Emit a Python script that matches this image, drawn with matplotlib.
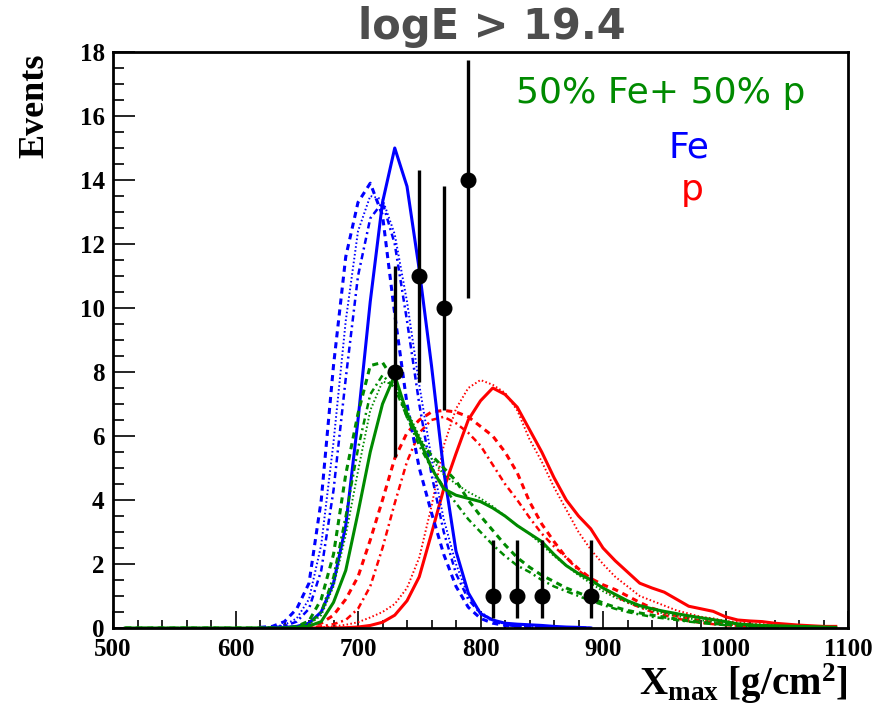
import numpy as np
import matplotlib
matplotlib.use('Agg')
import matplotlib.pyplot as plt
from matplotlib.ticker import MultipleLocator

plt.rcParams['font.family'] = ['Liberation Serif', 'DejaVu Serif']
plt.rcParams['font.weight'] = 'bold'
plt.rcParams['mathtext.fontset'] = 'custom'
plt.rcParams['mathtext.rm'] = 'Liberation Serif:bold'
plt.rcParams['mathtext.it'] = 'Liberation Serif:bold'
plt.rcParams['mathtext.bf'] = 'Liberation Serif:bold'

# Xmax grids (g/cm^2)
x_fe = np.arange(620, 900, 10)
x_p = np.arange(640, 1100, 10)
x_mix = np.arange(510, 1100, 10)

# Fe simulations (4 models)
fe_solid = [0, 0, 0.02, 0.05, 0.15, 0.5, 1.4, 3.2, 6.5, 10.2, 13.3, 15.0, 13.8, 11.2,
            8.2, 4.9, 2.4, 1.1, 0.45, 0.25, 0.15, 0.12, 0.1, 0.08, 0.05, 0.03, 0.02, 0]
fe_dashed = [0.02, 0.05, 0.2, 0.6, 1.4, 4.0, 8.2, 11.6, 13.3, 13.9, 12.9, 9.8, 7.0, 5.0,
             3.6, 2.3, 1.3, 0.65, 0.3, 0.15, 0.08, 0.05, 0.03, 0.02, 0.01, 0, 0, 0]
fe_dotted = [0.01, 0.03, 0.1, 0.3, 0.9, 2.6, 5.8, 9.6, 12.4, 13.5, 13.4, 12.3, 10.2, 7.6,
             5.3, 3.4, 2.0, 1.0, 0.5, 0.25, 0.12, 0.06, 0.03, 0.02, 0.01, 0, 0, 0]
fe_dashdot = [0, 0.02, 0.06, 0.2, 0.6, 1.8, 4.3, 7.8, 11.0, 12.8, 13.3, 12.0, 9.6, 7.0,
              4.8, 3.0, 1.7, 0.9, 0.45, 0.22, 0.1, 0.05, 0.03, 0.02, 0.01, 0, 0, 0]

# proton simulations
p_solid = [0, 0, 0, 0, 0, 0.01, 0.03, 0.08, 0.18, 0.4, 0.85, 1.6, 2.95, 4.35, 5.45, 6.5,
           7.1, 7.5, 7.3, 6.9, 6.2, 5.5, 4.7, 4.0, 3.5, 3.1, 2.5, 2.1, 1.75, 1.4, 1.25,
           1.12, 0.9, 0.68, 0.6, 0.52, 0.35, 0.25, 0.22, 0.2, 0.15, 0.12, 0.09, 0.07,
           0.05, 0.05]
p_dotted = [0, 0, 0, 0.02, 0.05, 0.1, 0.18, 0.33, 0.5, 0.75, 1.25, 2.2, 3.8, 5.7, 6.85,
            7.5, 7.75, 7.6, 7.35, 6.8, 5.9, 5.2, 4.4, 3.7, 3.0, 2.45, 2.0, 1.6, 1.3, 1.0,
            0.85, 0.7, 0.55, 0.45, 0.35, 0.3, 0.22, 0.18, 0.14, 0.12, 0.1, 0.08, 0.06,
            0.04, 0.02, 0.01]
p_dashed = [0, 0.02, 0.06, 0.15, 0.4, 0.9, 1.6, 2.75, 4.0, 5.3, 6.1, 6.5, 6.75, 6.8, 6.75,
            6.6, 6.3, 6.0, 5.5, 4.85, 3.95, 3.25, 2.7, 2.2, 1.85, 1.55, 1.35, 1.2, 1.0,
            0.8, 0.62, 0.5, 0.38, 0.3, 0.22, 0.17, 0.13, 0.1, 0.08, 0.06, 0.04, 0.03,
            0.02, 0.01, 0, 0]
p_dashdot = [0, 0, 0.02, 0.05, 0.12, 0.25, 0.6, 1.3, 2.5, 3.9, 5.2, 6.1, 6.5, 6.6, 6.4,
             6.1, 5.7, 5.1, 4.5, 4.0, 3.45, 2.95, 2.55, 2.2, 1.8, 1.5, 1.25, 1.0, 0.8,
             0.65, 0.5, 0.4, 0.3, 0.22, 0.16, 0.12, 0.09, 0.07, 0.05, 0.03, 0.02, 0.01,
             0, 0, 0, 0]

# 50% Fe + 50% p
mix_solid = [0] * 14 + [0.02, 0.06, 0.2, 0.8, 1.8, 3.6, 5.5, 7.0, 7.9, 6.7, 5.9, 5.0, 4.35,
             4.15, 4.05, 3.95, 3.75, 3.5, 3.2, 2.95, 2.7, 2.3, 1.95, 1.7, 1.5, 1.25,
             1.05, 0.85, 0.7, 0.6, 0.52, 0.45, 0.38, 0.32, 0.26, 0.2, 0.13, 0.1, 0.08,
             0.07, 0.06, 0.05, 0.04, 0.03, 0.02]
mix_dashed = [0] * 14 + [0.05, 0.22, 0.9, 2.3, 4.8, 6.7, 8.2, 8.3, 7.7, 6.6, 5.85, 5.4, 5.0,
              4.6, 4.0, 3.5, 3.05, 2.6, 2.2, 1.9, 1.65, 1.45, 1.25, 1.1, 0.95, 0.78,
              0.65, 0.55, 0.47, 0.4, 0.34, 0.28, 0.22, 0.18, 0.14, 0.11, 0.09, 0.07,
              0.05, 0.04, 0.03, 0.02, 0.02, 0.01, 0.01]
mix_dotted = [0] * 14 + [0.02, 0.1, 0.4, 1.3, 2.9, 4.9, 6.8, 7.7, 7.6, 6.8, 6.0, 5.3, 4.8,
              4.5, 4.25, 4.05, 3.8, 3.5, 3.2, 2.95, 2.6, 2.25, 1.95, 1.65, 1.4, 1.15,
              0.95, 0.8, 0.65, 0.55, 0.45, 0.38, 0.3, 0.24, 0.19, 0.15, 0.11, 0.08,
              0.06, 0.05, 0.04, 0.03, 0.02, 0.01, 0.01]
mix_dashdot = [0] * 14 + [0.03, 0.12, 0.5, 1.6, 3.5, 5.6, 7.3, 7.9, 7.5, 6.6, 5.7, 5.0, 4.4,
               3.9, 3.4, 3.0, 2.6, 2.25, 1.95, 1.75, 1.5, 1.3, 1.15, 1.0, 0.85, 0.72,
               0.6, 0.5, 0.42, 0.35, 0.3, 0.25, 0.2, 0.16, 0.12, 0.09, 0.07, 0.05,
               0.04, 0.03, 0.02, 0.02, 0.01, 0.01, 0]

# data
data_x = [730, 750, 770, 790, 810, 830, 850, 890]
data_y = [8, 11, 10, 14, 1, 1, 1, 1]
data_lo = [5.34, 7.7, 6.8, 10.3, 0.31, 0.31, 0.31, 0.31]
data_hi = [11.3, 14.3, 13.8, 17.75, 2.75, 2.75, 2.75, 2.75]

styles = {
    'solid': dict(ls='-', lw=2.2),
    'dashed': dict(ls=(0, (2.0, 1.6)), lw=2.2),
    'dotted': dict(ls=(0, (0.8, 1.2)), lw=1.4),
    'dashdot': dict(ls=(0, (2.5, 1.5, 0.8, 1.5)), lw=1.8),
}

fig = plt.figure(figsize=(8.81, 7.08), dpi=100)
ax = fig.add_axes([113 / 881, 1 - 628 / 708, 735 / 881, 576 / 708])

red, blue, green = '#ff0000', '#0000ff', '#008a00'
for y, st in [(p_dashed, 'dashed'), (p_dotted, 'dotted'), (p_dashdot, 'dashdot'), (p_solid, 'solid')]:
    ax.plot(x_p, y, color=red, **styles[st])
for y, st in [(fe_dashed, 'dashed'), (fe_dotted, 'dotted'), (fe_dashdot, 'dashdot'), (fe_solid, 'solid')]:
    ax.plot(x_fe, y, color=blue, **styles[st])
for y, st in [(mix_dashed, 'dashed'), (mix_dotted, 'dotted'), (mix_dashdot, 'dashdot'), (mix_solid, 'solid')]:
    ax.plot(x_mix, y, color=green, **styles[st])

yerr = [np.array(data_y) - np.array(data_lo), np.array(data_hi) - np.array(data_y)]
ax.errorbar(data_x, data_y, yerr=yerr, fmt='o', color='black', ms=10.5,
            elinewidth=2.4, capsize=0, zorder=5)

ax.set_xlim(500, 1100)
ax.set_ylim(0, 18)
ax.xaxis.set_major_locator(MultipleLocator(100))
ax.xaxis.set_minor_locator(MultipleLocator(20))
ax.yaxis.set_major_locator(MultipleLocator(2))
ax.yaxis.set_minor_locator(MultipleLocator(0.5))
ax.tick_params(axis='both', which='both', direction='in', top=False, right=False,
               labelsize=18, width=1.2, colors='black')
ax.tick_params(axis='x', which='major', length=12, pad=7)
ax.tick_params(axis='x', which='minor', length=6)
ax.tick_params(axis='y', which='major', length=16, pad=6)
ax.tick_params(axis='y', which='minor', length=8)
for sp in ax.spines.values():
    sp.set_linewidth(2.0)

fig.text(35 / 881, 1 - 54 / 708, 'Events', rotation=90, ha='center', va='top',
         fontsize=26, fontweight='bold')
fig.text(848 / 881, 2 / 708, r'$\mathrm{X_{max}}$ [g/cm$^{2}$]', ha='right', va='bottom',
         fontsize=28, fontweight='bold')

fig.text(492 / 881, 1 - 27 / 708, 'logE > 19.4', ha='center', va='center',
         fontsize=30, fontweight='bold', color='#4d4d4d', family='DejaVu Sans')

ax.text(0.7456, (628 - 103) / 576, '50% Fe+ 50% p', transform=ax.transAxes,
        ha='center', va='baseline', fontsize=26, color=green, family='DejaVu Sans',
        fontweight='normal')
ax.text(0.783, (628 - 157) / 576, 'Fe', transform=ax.transAxes,
        ha='center', va='baseline', fontsize=26, color=blue, family='DejaVu Sans',
        fontweight='normal')
ax.text(0.788, (628 - 200) / 576, 'p', transform=ax.transAxes,
        ha='center', va='baseline', fontsize=26, color=red, family='DejaVu Sans',
        fontweight='normal')

fig.savefig('out.png', dpi=100, facecolor='white')
